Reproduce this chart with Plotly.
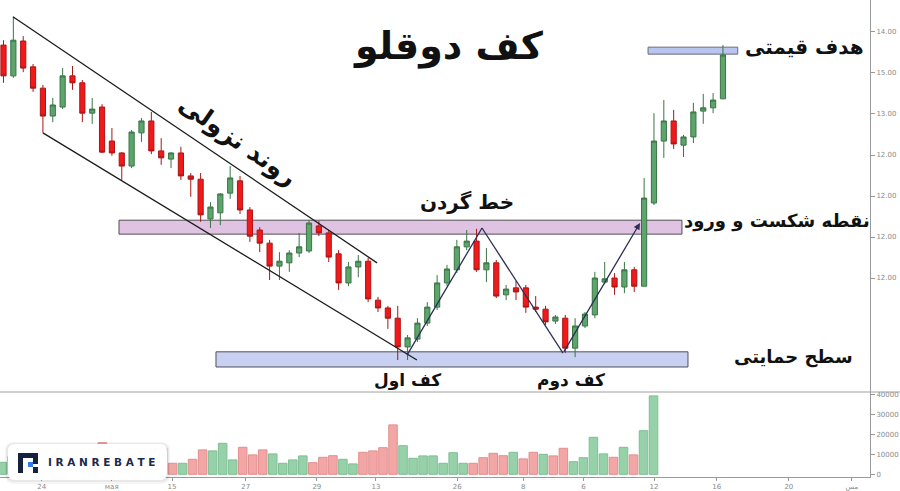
import plotly.graph_objects as go

# ---------------- data ----------------
candle_open = [13.68, 12.93, 13.78, 13.15, 12.63, 11.95, 12.17, 12.93, 12.76, 12.02,
               12.17, 11.34, 11.05, 10.73, 11.54, 11.83, 11.10, 10.90, 11.05, 10.49,
               10.41, 9.44, 9.59, 10.07, 10.37, 9.66, 9.17, 8.85, 8.29, 8.37,
               8.61, 8.66, 9.27, 9.10, 8.59, 7.88, 8.27, 8.41, 7.46, 7.27,
               7.02, 6.32, 6.51, 6.90, 7.29, 7.88, 8.20, 8.76, 8.90, 8.20,
               8.37, 7.59, 7.76, 7.76, 7.29, 7.24, 6.95, 7.02, 6.29, 6.83,
               7.10, 7.90, 8.00, 7.78, 8.20, 7.80, 9.83, 11.34, 11.83, 11.24,
               11.44, 12.07, 12.15, 12.37]
candle_high = [13.80, 14.37, 13.90, 13.22, 12.71, 12.39, 13.12, 13.17, 12.83, 12.39,
               12.24, 11.66, 11.07, 11.61, 11.90, 12.05, 11.41, 11.07, 11.20, 10.56,
               10.56, 9.85, 10.07, 10.73, 10.49, 9.73, 9.24, 8.93, 8.63, 8.68,
               9.10, 9.41, 9.39, 9.17, 8.68, 8.39, 8.56, 8.49, 7.54, 7.32,
               7.32, 6.61, 7.02, 7.41, 8.07, 8.32, 8.93, 9.17, 9.20, 8.73,
               8.44, 7.83, 7.93, 7.83, 7.56, 7.32, 7.10, 7.10, 7.02, 7.17,
               8.15, 8.39, 8.12, 8.39, 8.27, 10.44, 12.02, 12.34, 12.10, 11.49,
               12.27, 12.49, 12.51, 13.68]
candle_low = [12.76, 12.88, 13.02, 12.54, 11.54, 11.80, 12.12, 12.59, 11.80, 11.76,
              11.05, 10.98, 10.39, 10.68, 11.32, 11.02, 10.76, 10.68, 10.39, 9.98,
              9.37, 9.22, 9.29, 9.93, 9.56, 8.88, 8.63, 7.95, 7.95, 8.15,
              8.51, 8.61, 9.02, 8.39, 7.71, 7.80, 8.02, 7.41, 7.17, 6.76,
              6.00, 6.00, 6.44, 6.83, 7.22, 7.80, 8.12, 8.68, 8.15, 7.90,
              7.51, 7.46, 7.46, 7.15, 7.17, 6.85, 6.88, 6.17, 6.07, 6.78,
              7.02, 7.85, 7.59, 7.63, 7.66, 7.80, 9.78, 10.93, 11.15, 10.95,
              11.29, 11.76, 12.02, 12.37]
candle_close = [12.93, 13.80, 13.12, 12.63, 11.95, 12.22, 12.93, 12.76, 12.02, 12.12,
                11.07, 11.05, 10.73, 11.56, 11.83, 11.10, 10.93, 11.05, 10.49, 10.41,
                9.54, 9.73, 10.05, 10.44, 9.66, 9.02, 8.85, 8.29, 8.41, 8.61,
                8.76, 9.34, 9.10, 8.51, 7.88, 8.27, 8.41, 7.49, 7.27, 7.02,
                6.32, 6.54, 6.90, 7.29, 7.88, 8.22, 8.76, 8.90, 8.20, 8.37,
                7.56, 7.73, 7.66, 7.29, 7.24, 6.93, 7.05, 6.29, 6.83, 7.12,
                8.00, 7.98, 7.78, 8.20, 7.80, 9.95, 11.34, 11.83, 11.27, 11.44,
                12.05, 12.15, 12.34, 13.44]

volume = [6000, 9000, 11000, 8000, 12000, 9500, 10500, 7500, 9000, 11500,
          15800, 10000, 12500, 9000, 8000, 11000, 13000, 5500, 5500, 7500,
          12200, 11700, 15500, 7200, 13500, 9700, 12200, 10200, 5500, 7200,
          9200, 5800, 8500, 9300, 7500, 5200, 11000, 11700, 13300, 24700,
          14300, 8000, 9200, 9200, 5500, 10800, 5500, 5500, 8300, 10500,
          9300, 11000, 7700, 11000, 10000, 9200, 13000, 6300, 8300, 18500,
          10200, 8500, 13500, 9700, 21800, 39200]
volume_dir = ["u", "u", "d", "d", "d", "u", "u", "d", "d", "u",
              "d", "d", "d", "u", "u", "d", "d", "d", "u", "d",
              "d", "u", "u", "u", "d", "d", "d", "u", "u", "u",
              "u", "d", "d", "d", "u", "u", "d", "d", "d", "d",
              "u", "u", "u", "u", "u", "u", "u", "d", "d", "d",
              "d", "u", "d", "d", "u", "d", "d", "u", "u", "u",
              "u", "d", "u", "d", "u", "u"]

price_tick_vals = [14, 13, 12, 11, 10, 9, 8]
price_tick_text = ["14.00", "15.00", "13.00", "12.00", "12.00", "12.00", "12.00"]
vol_tick_vals = [0, 10000, 20000, 30000, 40000]
vol_tick_text = ["0", "10000", "20000", "30000", "40000"]
date_tick_vals = [3.94, 10.93, 16.95, 24.3, 31.4, 37.3, 45.4, 52.0, 58.0, 65.05, 71.3, 78.5, 84.8]
date_tick_text = ["24", "мая", "15", "27", "29", "13", "26", "8", "6", "12", "16", "20", "مس"]

# ---------------- helpers (pixel -> paper) ----------------
PLOT_W, PLOT_H = 870.0, 477.0


def px(x):
    return x / PLOT_W


def py(y):
    return (PLOT_H - y) / PLOT_H


def rounded_rect(x0, y0, x1, y1, r):
    rx, ry = r / PLOT_W, r / PLOT_H
    X0, X1, Y0, Y1 = px(x0), px(x1), py(y1), py(y0)
    return (f"M {X0+rx},{Y0} L {X1-rx},{Y0} Q {X1},{Y0} {X1},{Y0+ry} "
            f"L {X1},{Y1-ry} Q {X1},{Y1} {X1-rx},{Y1} L {X0+rx},{Y1} "
            f"Q {X0},{Y1} {X0},{Y1-ry} L {X0},{Y0+ry} Q {X0},{Y0} {X0+rx},{Y0} Z")


def poly(points):
    return "M " + " L ".join(f"{px(a)},{py(b)}" for a, b in points) + " Z"


idx = list(range(len(candle_open)))
vidx = list(range(len(volume)))

fig = go.Figure()
fig.add_trace(go.Candlestick(
    x=idx, open=candle_open, high=candle_high, low=candle_low, close=candle_close,
    increasing=dict(fillcolor="#5da56c", line=dict(color="#3a7446", width=1)),
    decreasing=dict(fillcolor="#f2191b", line=dict(color="#a81616", width=1)),
    whiskerwidth=0, xaxis="x", yaxis="y", hoverinfo="skip"))

fig.add_trace(go.Bar(
    x=vidx, y=volume,
    marker=dict(color=["#97d1a9" if d == "u" else "#f3a6a6" for d in volume_dir],
                line=dict(color=["#7ebf94" if d == "u" else "#e28e8e" for d in volume_dir],
                          width=1)),
    xaxis="x2", yaxis="y2", hoverinfo="skip"))

axis_col = "#9a9a9a"
tick_font = dict(family="DejaVu Sans", size=7, color="#8a8a8a")
split = py(392)

fig.update_layout(
    width=900, height=491,
    margin=dict(l=0, r=30, t=0, b=14),
    paper_bgcolor="white", plot_bgcolor="white",
    showlegend=False, boxgap=0.25, bargap=0.15,
    xaxis=dict(domain=[0, 1], range=[-0.355, 87.92], visible=False,
               rangeslider=dict(visible=False), anchor="y"),
    yaxis=dict(domain=[split, 1], range=[5.22, 14.78], side="right", anchor="x",
               showline=True, linecolor=axis_col, linewidth=1, ticks="outside",
               ticklen=4, tickcolor=axis_col, tickvals=price_tick_vals,
               ticktext=price_tick_text, tickfont=tick_font, showgrid=False,
               zeroline=False),
    xaxis2=dict(domain=[0, 1], range=[-0.22, 86.6], anchor="y2", showline=True,
                linecolor=axis_col, linewidth=1, ticks="outside", ticklen=3,
                tickcolor=axis_col, tickvals=date_tick_vals, ticktext=date_tick_text,
                tickfont=tick_font, showgrid=False, zeroline=False),
    yaxis2=dict(domain=[0, split], range=[-1350, 41150], side="right", anchor="x2",
                showline=True, linecolor=axis_col, linewidth=1, ticks="outside",
                ticklen=4, tickcolor=axis_col, tickvals=vol_tick_vals,
                ticktext=vol_tick_text, tickfont=tick_font, showgrid=False,
                zeroline=False),
)

shapes = []
# bands
shapes.append(dict(type="rect", xref="x", yref="y", x0=11.72, x1=68.84, y0=9.07, y1=9.41,
                   fillcolor="#e0c2e2", line=dict(color="#505050", width=1), layer="below"))
shapes.append(dict(type="rect", xref="x", yref="y", x0=21.56, x1=69.45, y0=5.83, y1=6.20,
                   fillcolor="#c9d1f3", line=dict(color="#505050", width=1), layer="below"))
shapes.append(dict(type="rect", xref="x", yref="y", x0=65.4, x1=74.5, y0=13.46, y1=13.63,
                   fillcolor="#b9c5ef", line=dict(color="#6a6a7a", width=1), layer="below"))
# channel lines
shapes.append(dict(type="line", xref="x", yref="y", x0=0.96, y0=14.37, x1=37.9, y1=8.37,
                   line=dict(color="#1c1c1c", width=1.3)))
shapes.append(dict(type="line", xref="x", yref="y", x0=4.0, y0=11.54, x1=41.95, y1=6.0,
                   line=dict(color="#1c1c1c", width=1.3)))
# W pattern
shapes.append(dict(type="line", xref="x", yref="y", x0=40.94, y0=6.12, x1=48.55, y1=9.22,
                   line=dict(color="#2b2f55", width=1.3)))
shapes.append(dict(type="line", xref="x", yref="y", x0=48.55, y0=9.22, x1=56.77, y1=6.17,
                   line=dict(color="#2b2f55", width=1.3)))
# divider
shapes.append(dict(type="line", xref="paper", yref="paper", x0=0, x1=900 / PLOT_W,
                   y0=split, y1=split, line=dict(color="#a0a0a0", width=1)))
# logo card with soft shadow
shapes.append(dict(type="path", xref="paper", yref="paper",
                   path=rounded_rect(5, 442, 170, 484, 9),
                   fillcolor="rgba(0,0,0,0.04)", line=dict(width=0), layer="above"))
shapes.append(dict(type="path", xref="paper", yref="paper",
                   path=rounded_rect(6, 443, 169, 482, 8),
                   fillcolor="rgba(0,0,0,0.05)", line=dict(width=0), layer="above"))
shapes.append(dict(type="path", xref="paper", yref="paper",
                   path=rounded_rect(8, 444, 167, 480, 7),
                   fillcolor="white", line=dict(width=0), layer="above"))
# logo icon
shapes.append(dict(type="path", xref="paper", yref="paper",
                   path=poly([(18, 453), (38, 453), (38, 464), (33, 464), (33, 458),
                              (23, 458), (23, 473), (18, 473)]),
                   fillcolor="#16213f", line=dict(width=0), layer="above"))
shapes.append(dict(type="path", xref="paper", yref="paper",
                   path=poly([(28, 462), (33, 462), (33, 467), (28, 467)]),
                   fillcolor="#2d7cf6", line=dict(width=0), layer="above"))
shapes.append(dict(type="path", xref="paper", yref="paper",
                   path=poly([(33, 467), (38, 467), (38, 473), (33, 473)]),
                   fillcolor="#16213f", line=dict(width=0), layer="above"))
fig.update_layout(shapes=shapes)

ann = []
# arrow of the last W leg
ann.append(dict(x=64.58, y=9.34, ax=56.77, ay=6.17, xref="x", yref="y", axref="x",
                ayref="y", text="", showarrow=True, arrowhead=2, arrowsize=1,
                arrowwidth=1.3, arrowcolor="#2b2f55", standoff=0))

fa = "DejaVu Sans"


def label(text, x, y, size, bold=True, angle=0):
    t = f"<b>{text}</b>" if bold else text
    ann.append(dict(text=t, x=px(x), y=py(y), xref="paper", yref="paper",
                    xanchor="center", yanchor="middle", showarrow=False,
                    textangle=angle, font=dict(family=fa, size=size, color="#111111")))


label("کف دوقلو", 448, 46, 38)
label("روند نزولی", 238, 141, 25, angle=35)
label("خط گردن", 467, 202, 20)
label("هدف قیمتی", 804, 47, 20)
label("نقطه شکست و ورود", 777, 221, 18)
label("سطح حمایتی", 793, 357, 18)
label("کف اول", 407, 380, 17)
label("کف دوم", 571, 380, 17)

ann.append(dict(text="<b>I R A N R E B A T E</b>", x=px(102), y=py(462), xref="paper",
                yref="paper", xanchor="center", yanchor="middle", showarrow=False,
                font=dict(family="DejaVu Sans", size=10.5, color="#1b2a4e")))
fig.update_layout(annotations=ann)

fig.write_html("out.html", config={"displayModeBar": False},
               post_script="document.body.style.margin='0px';")
